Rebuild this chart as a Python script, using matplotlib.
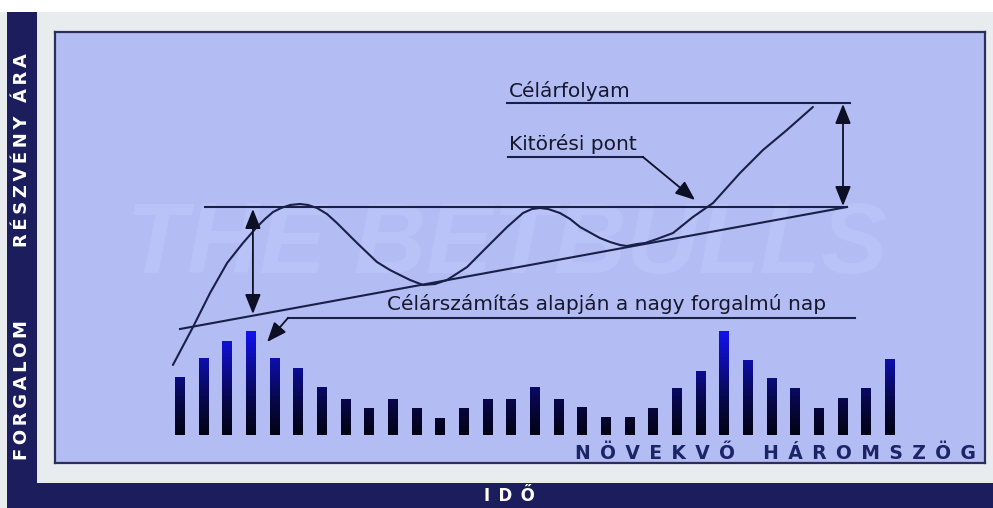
import matplotlib
matplotlib.use("Agg")
import matplotlib.pyplot as plt
import numpy as np
from matplotlib.patches import Rectangle, FancyArrowPatch
from matplotlib.colors import LinearSegmentedColormap, Normalize

# ---------------- data (time in days, price / volume in chart units) ----------------
days = list(range(31))
volume = [58, 77, 94, 104, 77, 67, 48, 36, 27, 36, 27, 17, 27, 36, 36, 48,
          36, 28, 18, 18, 27, 47, 64, 104, 75, 57, 47, 27, 37, 47, 76]

curve_day = [-0.30, 0.55, 1.27, 1.99, 2.66, 3.25, 3.59, 3.93, 4.27, 4.65, 5.07,
             5.41, 5.79, 6.21, 6.63, 7.48, 8.32, 8.87, 9.29, 9.72, 10.27, 10.77,
             11.28, 12.13, 12.97, 13.82, 14.49, 14.87, 15.21, 15.55, 16.05,
             16.48, 16.90, 17.74, 18.17, 18.59, 18.88, 19.31, 19.65, 20.15,
             20.83, 21.67, 22.52, 23.66, 24.63, 25.64, 26.74]
curve_price = [70, 108, 142, 172, 192, 208, 216, 223, 227, 230, 231,
               230, 227, 221, 212, 192, 173, 165, 160, 155, 150, 151,
               155, 168, 188, 208, 222, 226, 227, 226, 222,
               216, 208, 197, 193, 190, 189, 191, 192, 196,
               202, 218, 232, 262, 285, 305, 328]

resistance_day = [1.06, 28.18]
resistance_price = [228, 228]
support_day = [0.0, 28.18]
support_price = [106, 228]
target_day = [13.82, 28.31]
target_price = [332, 332]

breakout_line_day = [13.86, 19.56]
breakout_line_price = [278, 278]
breakout_arrow_end = (21.76, 235)

volnote_line_day = [4.56, 28.52]
volnote_line_price = [117, 117]
volnote_arrow_end = (3.68, 93)

left_arrow_day = 3.08
left_arrow_price = (226, 121)
right_arrow_day = 28.01
right_arrow_price = (331, 229)

label_target = "Célárfolyam"
label_breakout = "Kitörési pont"
label_volume = "Célárszámítás alapján a nagy forgalmú nap"
label_pattern = "N\u2002Ö\u2002V\u2002E\u2002K\u2002V\u2002Ő\u2002\u2002\u2002H\u2002Á\u2002R\u2002O\u2002M\u2002S\u2002Z\u2002Ö\u2002G"
label_price_axis = "R\u2009É\u2009S\u2009Z\u2009V\u2009É\u2009N\u2009Y\u2009 \u2009Á\u2009R\u2009A"
label_volume_axis = "F\u2009O\u2009R\u2009G\u2009A\u2009L\u2009O\u2009M"
label_time_axis = "I\u2002D\u2002Ő"
watermark = "THE BETBULLS"

# ---------------- styling ----------------
W, H = 993, 508
NAVY = "#1b1d5c"
LIGHT = "#e9ecef"
PANEL = "#b3bdf4"
INK = "#1a1f48"
TEXT = "#16172a"

fig = plt.figure(figsize=(W / 100, H / 100), dpi=100, facecolor="white")

# background / frame (pixel coordinates)
bg = fig.add_axes([0, 0, 1, 1], zorder=0)
bg.set_xlim(0, W)
bg.set_ylim(H, 0)
bg.axis("off")
bg.add_patch(Rectangle((0, 12), W, H - 12, facecolor=LIGHT, edgecolor="none"))
bg.add_patch(Rectangle((7, 12), 30, H - 12, facecolor=NAVY, edgecolor="none"))
bg.add_patch(Rectangle((7, 483), W - 7, 25, facecolor=NAVY, edgecolor="none"))

bg.text(22, 150, label_price_axis, rotation=90, ha="center", va="center",
        color="white", fontsize=13, fontweight="bold", family="DejaVu Sans")
bg.text(22, 390, label_volume_axis, rotation=90, ha="center", va="center",
        color="white", fontsize=13, fontweight="bold", family="DejaVu Sans")
bg.text(509, 496, label_time_axis, ha="center", va="center",
        color="white", fontsize=12, fontweight="bold", family="DejaVu Sans")

# main chart panel
px0, px1, py0, py1 = 55, 985, 32, 463
ax = fig.add_axes([px0 / W, (H - py1) / H, (px1 - px0) / W, (py1 - py0) / H], zorder=1)
ax.set_facecolor(PANEL)
xlim = ((px0 - 180) / 23.67, (px1 - 180) / 23.67)
ylim = (435 - py1, 435 - py0)
ax.set_xticks([])
ax.set_yticks([])
for s in ax.spines.values():
    s.set_color("#2a2e58")
    s.set_linewidth(1.6)

# watermark
ax.text(13.8, 188, watermark, ha="center", va="center", fontsize=72,
        fontweight="bold", style="italic", family="Liberation Sans",
        color="#b9c3f7", zorder=0.5)

# volume bars with vertical gradient
cmap = LinearSegmentedColormap.from_list(
    "vol", [(0.0, (0.01, 0.01, 0.08)), (0.35, (0.03, 0.03, 0.30)),
            (1.0, (0.07, 0.07, 0.93))])
norm = Normalize(0, max(volume))
bars = ax.bar(days, volume, width=0.42, color="none", edgecolor="none", zorder=2)
for d, v, patch in zip(days, volume, bars.patches):
    grad = np.linspace(0, v, 64).reshape(-1, 1)
    im = ax.imshow(grad, cmap=cmap, norm=norm, origin="lower", aspect="auto",
                   extent=[d - 0.21, d + 0.21, 0, v], zorder=2,
                   interpolation="bilinear")
    im.set_clip_path(patch)
ax.set_xlim(*xlim)
ax.set_ylim(*ylim)

# pattern lines
lw = 1.5
ax.plot(resistance_day, resistance_price, color=INK, lw=lw, zorder=3)
ax.plot(support_day, support_price, color=INK, lw=lw, zorder=3)
ax.plot(target_day, target_price, color=INK, lw=lw, zorder=3)
ax.plot(curve_day, curve_price, color=INK, lw=lw, zorder=3,
        solid_joinstyle="round", solid_capstyle="round")

# annotation underlines and arrows
ax.plot(breakout_line_day, breakout_line_price, color=INK, lw=lw, zorder=3)
ax.plot(volnote_line_day, volnote_line_price, color=INK, lw=lw, zorder=3)

def arrow(p0, p1, style="-|>"):
    a = FancyArrowPatch(p0, p1, arrowstyle=style + ",head_length=0.6,head_width=0.24",
                        mutation_scale=20, color="#0d0f25", lw=1.3,
                        shrinkA=0, shrinkB=0, zorder=4)
    ax.add_patch(a)

arrow((breakout_line_day[1], breakout_line_price[1]), breakout_arrow_end)
arrow((volnote_line_day[0], volnote_line_price[0]), volnote_arrow_end)
arrow((left_arrow_day, left_arrow_price[1]), (left_arrow_day, left_arrow_price[0]), "<|-|>")
arrow((right_arrow_day, right_arrow_price[1]), (right_arrow_day, right_arrow_price[0]), "<|-|>")

# labels
ax.text(13.90, 338, label_target, fontsize=14.5, color=TEXT,
        family="DejaVu Sans", ha="left", va="baseline", zorder=5)
ax.text(13.90, 285, label_breakout, fontsize=14.5, color=TEXT,
        family="DejaVu Sans", ha="left", va="baseline", zorder=5)
ax.text(8.75, 125, label_volume, fontsize=14.5, color=TEXT,
        family="DejaVu Sans", ha="left", va="baseline", zorder=5)
ax.text(16.70, -24, label_pattern, fontsize=13.5, color="#1e2266",
        fontweight="heavy", family="DejaVu Sans", ha="left", va="baseline", zorder=5)

fig.savefig("out.png", dpi=100, facecolor=fig.get_facecolor())
